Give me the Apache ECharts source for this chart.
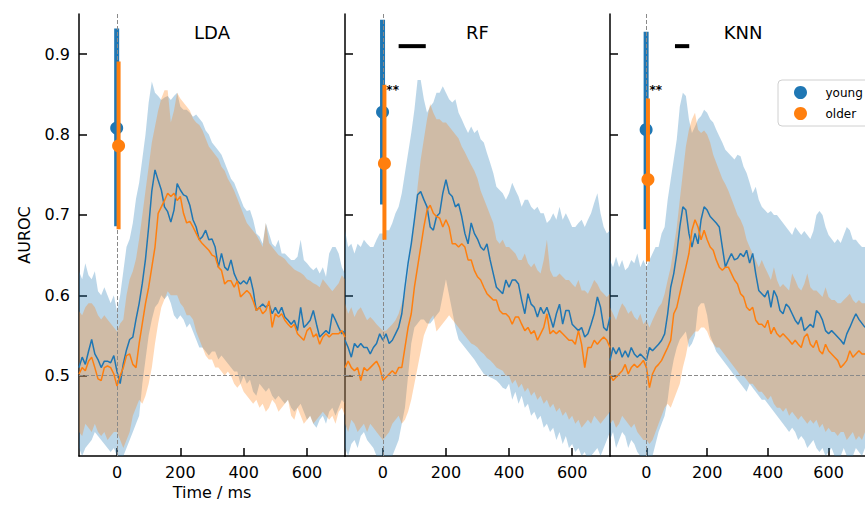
<!DOCTYPE html>
<html><head><meta charset="utf-8">
<script src="https://cdn.jsdelivr.net/npm/echarts@6/dist/echarts.min.js"></script>
<style>html,body{margin:0;padding:0;background:#fff}#c{width:865px;height:507px}</style>
</head><body><div id="c"></div>
<script>
// ---------------- data ----------------
const panelNames = ['LDA', 'RF', 'KNN'];
const groupNames = ['young', 'older'];
const xTicks = [0, 200, 400, 600];
const yTicks = [0.5, 0.6, 0.7, 0.8, 0.9];
const xRange = [-120, 720];
const yRange = [0.4, 0.95];
const chanceLevel = 0.5;
const onsetTime = 0;

const times = [
-120,-110,-100,-90,-80,-70,-60,-50,-40,-30,-20,-10,
0,10,20,30,40,50,60,70,80,90,100,110,
120,130,140,150,160,170,180,190,200,210,220,230,
240,250,260,270,280,290,300,310,320,330,340,350,
360,370,380,390,400,410,420,430,440,450,460,470,
480,490,500,510,520,530,540,550,560,570,580,590,
600,610,620,630,640,650,660,670,680,690,700,710,
720];

// LDA
const ldaYoungMean = [
0.510,0.523,0.514,0.530,0.545,0.527,0.520,0.510,0.518,0.518,0.516,0.525,
0.505,0.490,0.515,0.532,0.545,0.548,0.570,0.590,0.615,0.645,0.685,0.730,
0.756,0.743,0.731,0.710,0.704,0.691,0.706,0.739,0.731,0.725,0.723,0.712,
0.694,0.685,0.669,0.673,0.681,0.669,0.670,0.660,0.635,0.652,0.635,0.631,
0.644,0.627,0.618,0.614,0.618,0.614,0.623,0.606,0.581,0.585,0.589,0.585,
0.589,0.577,0.585,0.577,0.585,0.573,0.569,0.564,0.569,0.556,0.585,0.560,
0.564,0.569,0.581,0.564,0.548,0.552,0.556,0.552,0.577,0.569,0.560,0.552,
0.556];
const ldaYoungUpper = [
0.630,0.620,0.640,0.625,0.620,0.630,0.605,0.600,0.610,0.600,0.590,0.600,
0.580,0.600,0.630,0.660,0.670,0.690,0.720,0.740,0.770,0.800,0.840,0.866,
0.852,0.848,0.843,0.846,0.848,0.843,0.848,0.852,0.835,0.831,0.831,0.827,
0.822,0.825,0.820,0.815,0.805,0.800,0.790,0.785,0.780,0.775,0.765,0.755,
0.745,0.740,0.730,0.720,0.710,0.705,0.706,0.694,0.677,0.673,0.664,0.690,
0.677,0.664,0.660,0.669,0.652,0.652,0.648,0.644,0.644,0.648,0.669,0.644,
0.640,0.635,0.631,0.635,0.627,0.635,0.623,0.652,0.660,0.660,0.652,0.635,
0.627];
const ldaYoungLower = [
0.410,0.400,0.410,0.415,0.420,0.430,0.425,0.420,0.415,0.410,0.405,0.410,
0.400,0.390,0.400,0.410,0.420,0.430,0.440,0.450,0.490,0.520,0.550,0.570,
0.585,0.590,0.600,0.595,0.600,0.590,0.575,0.570,0.575,0.570,0.560,0.565,
0.555,0.545,0.535,0.535,0.530,0.525,0.530,0.530,0.520,0.525,0.520,0.515,
0.510,0.505,0.505,0.490,0.500,0.490,0.495,0.480,0.475,0.490,0.485,0.480,
0.485,0.475,0.470,0.475,0.470,0.465,0.470,0.460,0.455,0.460,0.465,0.455,
0.445,0.450,0.440,0.435,0.445,0.450,0.440,0.455,0.460,0.450,0.460,0.470,
0.465];
const ldaOlderMean = [
0.502,0.510,0.506,0.518,0.523,0.510,0.496,0.494,0.510,0.512,0.510,0.502,
0.487,0.500,0.510,0.525,0.527,0.514,0.510,0.540,0.565,0.590,0.610,0.635,
0.660,0.702,0.710,0.718,0.727,0.723,0.727,0.718,0.723,0.702,0.690,0.692,
0.685,0.677,0.669,0.664,0.660,0.656,0.650,0.648,0.635,0.631,0.614,0.618,
0.618,0.610,0.618,0.598,0.602,0.606,0.602,0.593,0.581,0.585,0.577,0.581,
0.593,0.560,0.577,0.573,0.577,0.569,0.564,0.560,0.564,0.552,0.548,0.544,
0.556,0.560,0.548,0.552,0.539,0.548,0.552,0.548,0.552,0.552,0.552,0.556,
0.548];
const ldaOlderUpper = [
0.580,0.575,0.585,0.590,0.590,0.585,0.575,0.570,0.575,0.570,0.565,0.560,
0.555,0.565,0.570,0.600,0.620,0.630,0.645,0.670,0.700,0.730,0.760,0.790,
0.810,0.830,0.845,0.855,0.855,0.815,0.830,0.852,0.845,0.840,0.835,0.830,
0.820,0.815,0.812,0.805,0.795,0.785,0.780,0.775,0.770,0.760,0.755,0.745,
0.738,0.730,0.720,0.710,0.700,0.690,0.685,0.680,0.675,0.668,0.660,0.690,
0.665,0.660,0.655,0.650,0.648,0.645,0.640,0.636,0.632,0.630,0.628,0.625,
0.620,0.618,0.615,0.613,0.610,0.620,0.615,0.610,0.605,0.610,0.615,0.625,
0.620];
const ldaOlderLower = [
0.430,0.425,0.440,0.435,0.430,0.440,0.430,0.425,0.430,0.420,0.425,0.430,
0.430,0.420,0.410,0.420,0.430,0.450,0.460,0.470,0.465,0.475,0.490,0.510,
0.540,0.565,0.585,0.595,0.605,0.600,0.600,0.600,0.590,0.585,0.575,0.575,
0.570,0.555,0.545,0.535,0.525,0.520,0.520,0.510,0.510,0.505,0.500,0.505,
0.500,0.490,0.485,0.490,0.480,0.475,0.470,0.465,0.470,0.460,0.465,0.455,
0.460,0.470,0.465,0.455,0.460,0.465,0.470,0.450,0.445,0.460,0.450,0.440,
0.445,0.450,0.440,0.445,0.450,0.455,0.450,0.445,0.450,0.440,0.455,0.460,
0.450];

// RF
const rfYoungMean = [
0.544,0.535,0.523,0.540,0.535,0.540,0.535,0.535,0.527,0.535,0.540,0.552,
0.544,0.552,0.540,0.544,0.552,0.560,0.577,0.610,0.640,0.664,0.694,0.725,
0.729,0.719,0.710,0.685,0.681,0.698,0.702,0.727,0.744,0.727,0.723,0.710,
0.714,0.698,0.677,0.664,0.690,0.677,0.670,0.660,0.656,0.664,0.644,0.627,
0.610,0.606,0.602,0.619,0.610,0.619,0.619,0.614,0.594,0.577,0.602,0.589,
0.585,0.573,0.585,0.577,0.585,0.573,0.560,0.577,0.589,0.564,0.581,0.581,
0.564,0.560,0.556,0.560,0.548,0.552,0.564,0.577,0.598,0.585,0.560,0.556,
0.573];
const rfYoungUpper = [
0.681,0.660,0.664,0.652,0.664,0.660,0.669,0.664,0.660,0.660,0.669,0.677,
0.677,0.681,0.681,0.690,0.702,0.710,0.727,0.752,0.777,0.802,0.831,0.868,
0.868,0.844,0.827,0.835,0.840,0.852,0.852,0.860,0.852,0.844,0.840,0.844,
0.827,0.819,0.810,0.802,0.810,0.802,0.806,0.794,0.790,0.777,0.765,0.752,
0.735,0.731,0.727,0.719,0.727,0.740,0.731,0.723,0.710,0.719,0.719,0.710,
0.706,0.710,0.702,0.702,0.690,0.694,0.702,0.694,0.710,0.694,0.702,0.694,
0.685,0.685,0.690,0.694,0.685,0.694,0.702,0.715,0.727,0.702,0.685,0.677,
0.681];
const rfYoungLower = [
0.410,0.400,0.415,0.420,0.410,0.425,0.430,0.420,0.415,0.410,0.400,0.395,
0.400,0.395,0.400,0.400,0.410,0.420,0.440,0.460,0.500,0.540,0.560,0.565,
0.570,0.570,0.565,0.565,0.570,0.575,0.580,0.600,0.620,0.600,0.580,0.560,
0.545,0.540,0.535,0.530,0.525,0.520,0.514,0.508,0.502,0.500,0.498,0.496,
0.494,0.490,0.485,0.483,0.490,0.470,0.480,0.465,0.475,0.460,0.465,0.450,
0.455,0.445,0.450,0.435,0.440,0.430,0.435,0.420,0.430,0.415,0.425,0.410,
0.415,0.405,0.410,0.400,0.405,0.395,0.400,0.405,0.410,0.400,0.410,0.420,
0.430];
const rfOlderMean = [
0.510,0.518,0.510,0.506,0.510,0.494,0.510,0.506,0.510,0.514,0.518,0.510,
0.494,0.498,0.502,0.506,0.502,0.510,0.510,0.535,0.560,0.577,0.610,0.635,
0.660,0.685,0.706,0.712,0.702,0.698,0.696,0.685,0.694,0.685,0.664,0.664,
0.660,0.664,0.660,0.644,0.644,0.631,0.623,0.619,0.610,0.602,0.598,0.594,
0.594,0.581,0.577,0.577,0.573,0.564,0.573,0.573,0.564,0.556,0.560,0.552,
0.556,0.544,0.552,0.560,0.577,0.552,0.556,0.552,0.556,0.552,0.548,0.544,
0.544,0.539,0.556,0.539,0.510,0.535,0.535,0.544,0.539,0.544,0.548,0.544,
0.535];
const rfOlderUpper = [
0.590,0.577,0.585,0.573,0.581,0.585,0.577,0.569,0.573,0.569,0.564,0.560,
0.556,0.556,0.560,0.564,0.569,0.577,0.590,0.602,0.627,0.660,0.694,0.735,
0.769,0.794,0.819,0.838,0.827,0.819,0.819,0.815,0.815,0.810,0.805,0.800,
0.795,0.785,0.778,0.770,0.762,0.755,0.745,0.730,0.720,0.710,0.700,0.690,
0.669,0.664,0.669,0.660,0.660,0.656,0.652,0.644,0.644,0.652,0.640,0.635,
0.640,0.631,0.627,0.644,0.669,0.631,0.623,0.623,0.627,0.623,0.619,0.619,
0.614,0.610,0.619,0.606,0.606,0.602,0.610,0.619,0.614,0.606,0.602,0.598,
0.602];
const rfOlderLower = [
0.440,0.430,0.445,0.440,0.430,0.435,0.440,0.430,0.440,0.435,0.430,0.425,
0.420,0.425,0.430,0.440,0.445,0.450,0.440,0.445,0.455,0.470,0.490,0.510,
0.530,0.550,0.560,0.570,0.575,0.555,0.560,0.565,0.570,0.575,0.570,0.565,
0.560,0.555,0.550,0.545,0.540,0.538,0.535,0.530,0.527,0.522,0.519,0.515,
0.510,0.508,0.506,0.500,0.500,0.490,0.495,0.485,0.490,0.480,0.485,0.475,
0.480,0.470,0.475,0.465,0.470,0.460,0.465,0.455,0.460,0.450,0.455,0.445,
0.450,0.440,0.445,0.435,0.440,0.445,0.440,0.450,0.445,0.440,0.445,0.450,
0.455];

// KNN
const knnYoungMean = [
0.519,0.535,0.527,0.535,0.523,0.531,0.523,0.535,0.527,0.523,0.527,0.523,
0.519,0.535,0.531,0.535,0.539,0.544,0.552,0.577,0.610,0.627,0.652,0.685,
0.710,0.706,0.677,0.660,0.677,0.664,0.694,0.710,0.706,0.698,0.694,0.690,
0.685,0.660,0.635,0.644,0.652,0.644,0.646,0.652,0.648,0.656,0.640,0.652,
0.627,0.606,0.602,0.598,0.606,0.585,0.606,0.598,0.581,0.577,0.589,0.585,
0.577,0.569,0.564,0.573,0.556,0.560,0.564,0.560,0.581,0.577,0.569,0.556,
0.552,0.556,0.552,0.548,0.544,0.539,0.552,0.560,0.569,0.577,0.570,0.565,
0.560];
const knnYoungUpper = [
0.644,0.635,0.648,0.635,0.644,0.631,0.635,0.644,0.640,0.652,0.635,0.644,
0.635,0.644,0.652,0.660,0.660,0.677,0.685,0.719,0.744,0.769,0.794,0.835,
0.852,0.848,0.819,0.802,0.810,0.819,0.823,0.831,0.827,0.819,0.815,0.806,
0.798,0.790,0.781,0.777,0.773,0.769,0.775,0.773,0.760,0.752,0.740,0.727,
0.735,0.719,0.710,0.706,0.702,0.705,0.700,0.700,0.695,0.690,0.685,0.680,
0.675,0.685,0.680,0.675,0.680,0.675,0.670,0.680,0.700,0.705,0.700,0.685,
0.675,0.670,0.665,0.670,0.665,0.675,0.685,0.681,0.669,0.669,0.664,0.660,
0.660];
const knnYoungLower = [
0.420,0.430,0.410,0.420,0.430,0.425,0.410,0.420,0.415,0.405,0.400,0.395,
0.400,0.395,0.400,0.415,0.430,0.440,0.450,0.470,0.500,0.520,0.535,0.545,
0.550,0.555,0.535,0.540,0.550,0.585,0.590,0.590,0.575,0.550,0.540,0.530,
0.525,0.520,0.515,0.510,0.505,0.500,0.495,0.490,0.485,0.480,0.490,0.485,
0.480,0.475,0.470,0.470,0.465,0.460,0.455,0.450,0.445,0.440,0.435,0.430,
0.435,0.430,0.420,0.425,0.420,0.410,0.415,0.420,0.410,0.405,0.410,0.400,
0.405,0.410,0.400,0.395,0.400,0.410,0.400,0.395,0.400,0.410,0.405,0.400,
0.410];
const knnOlderMean = [
0.502,0.494,0.498,0.502,0.506,0.514,0.502,0.510,0.514,0.510,0.514,0.519,
0.510,0.485,0.502,0.510,0.514,0.519,0.527,0.535,0.544,0.577,0.585,0.602,
0.619,0.635,0.652,0.681,0.694,0.685,0.669,0.681,0.669,0.660,0.656,0.644,
0.635,0.631,0.635,0.635,0.627,0.619,0.614,0.602,0.598,0.585,0.581,0.585,
0.569,0.564,0.564,0.560,0.569,0.552,0.560,0.552,0.548,0.552,0.548,0.544,
0.539,0.544,0.539,0.535,0.548,0.552,0.539,0.535,0.544,0.531,0.527,0.539,
0.531,0.527,0.523,0.519,0.510,0.514,0.519,0.531,0.523,0.527,0.531,0.527,
0.527];
const knnOlderUpper = [
0.585,0.577,0.569,0.581,0.590,0.585,0.577,0.581,0.573,0.569,0.577,0.564,
0.569,0.560,0.569,0.577,0.585,0.590,0.602,0.619,0.635,0.660,0.685,0.719,
0.752,0.785,0.806,0.819,0.827,0.806,0.802,0.805,0.800,0.790,0.775,0.765,
0.755,0.745,0.738,0.730,0.720,0.710,0.700,0.694,0.685,0.669,0.660,0.652,
0.644,0.635,0.644,0.635,0.627,0.619,0.635,0.619,0.610,0.614,0.610,0.606,
0.627,0.619,0.610,0.606,0.614,0.627,0.610,0.606,0.606,0.602,0.598,0.610,
0.598,0.594,0.594,0.590,0.590,0.594,0.598,0.602,0.594,0.590,0.594,0.590,
0.590];
const knnOlderLower = [
0.440,0.445,0.435,0.440,0.450,0.445,0.440,0.435,0.440,0.430,0.425,0.420,
0.420,0.415,0.420,0.430,0.440,0.450,0.460,0.465,0.460,0.470,0.480,0.490,
0.510,0.525,0.545,0.550,0.555,0.555,0.560,0.560,0.555,0.545,0.540,0.535,
0.535,0.530,0.525,0.520,0.515,0.510,0.505,0.500,0.500,0.495,0.490,0.490,
0.485,0.480,0.480,0.475,0.470,0.475,0.465,0.460,0.460,0.455,0.460,0.450,
0.455,0.450,0.445,0.450,0.445,0.440,0.445,0.440,0.445,0.435,0.440,0.430,
0.435,0.430,0.430,0.425,0.430,0.430,0.420,0.425,0.430,0.420,0.425,0.420,
0.430];

// summary points with error bars (one value per panel: LDA, RF, KNN)
const groupOffsets = [-1, 5];            // ms position of young / older summary
const youngPointMean = [0.808, 0.828, 0.806];
const youngPointLow  = [0.686, 0.713, 0.682];
const youngPointHigh = [0.932, 0.943, 0.928];
const olderPointMean = [0.786, 0.764, 0.744];
const olderPointLow  = [0.682, 0.669, 0.642];
const olderPointHigh = [0.891, 0.862, 0.845];

// significance markers (per panel)
const sigStart = [null, 50, 94];
const sigEnd   = [null, 136, 141];
const sigLevel = 0.91;
const starTime  = [null, 31, 31];
const starLevel = 0.859;
const starText  = ['', '**', '**'];

// ---------------- chart ----------------
const FONT = 'DejaVu Sans';
const BLUE = '#1f77b4', ORANGE = '#ff7f0e';
const BLUE_FILL = 'rgba(31,119,180,0.3)', ORANGE_FILL = 'rgba(255,127,14,0.3)';
const GRID_TOP = 14, GRID_H = 442;
const gridBoxes = [{left: 79, width: 266}, {left: 345, width: 265}, {left: 610, width: 266}];

const panels = [
  {young: {mean: ldaYoungMean, lo: ldaYoungLower, hi: ldaYoungUpper},
   older: {mean: ldaOlderMean, lo: ldaOlderLower, hi: ldaOlderUpper}},
  {young: {mean: rfYoungMean, lo: rfYoungLower, hi: rfYoungUpper},
   older: {mean: rfOlderMean, lo: rfOlderLower, hi: rfOlderUpper}},
  {young: {mean: knnYoungMean, lo: knnYoungLower, hi: knnYoungUpper},
   older: {mean: knnOlderMean, lo: knnOlderLower, hi: knnOlderUpper}}
];
const pointStats = {
  young: {mean: youngPointMean, lo: youngPointLow, hi: youngPointHigh, color: BLUE, width: 5},
  older: {mean: olderPointMean, lo: olderPointLow, hi: olderPointHigh, color: ORANGE, width: 4}
};

const chart = echarts.init(document.getElementById('c'), null, {renderer: 'svg', width: 865, height: 507});

const grids = gridBoxes.map(g => ({left: g.left, width: g.width, top: GRID_TOP, height: GRID_H, containLabel: false}));
const axisLineStyle = {show: true, onZero: false, lineStyle: {color: '#000', width: 1.5}};
const xAxes = gridBoxes.map((g, i) => ({
  type: 'value', gridIndex: i, min: xRange[0], max: xRange[1],
  axisLine: axisLineStyle,
  axisTick: {show: true, inside: true, length: 8, customValues: xTicks, lineStyle: {color: '#000', width: 1.5}},
  axisLabel: {show: true, customValues: xTicks, margin: 8, color: '#000', fontSize: 16, fontFamily: FONT, formatter: v => String(v)},
  splitLine: {show: false},
  name: i === 0 ? 'Time / ms' : '', nameLocation: 'middle', nameGap: 28,
  nameTextStyle: {color: '#000', fontSize: 16, fontFamily: FONT}
}));
const yAxes = gridBoxes.map((g, i) => ({
  type: 'value', gridIndex: i, min: yRange[0], max: yRange[1],
  axisLine: axisLineStyle,
  axisTick: {show: true, inside: true, length: 8, customValues: yTicks, lineStyle: {color: '#000', width: 1.5}},
  axisLabel: {show: i === 0, customValues: yTicks, margin: 9, color: '#000', fontSize: 16, fontFamily: FONT, formatter: v => v.toFixed(1)},
  splitLine: {show: false},
  name: i === 0 ? 'AUROC' : '', nameLocation: 'middle', nameGap: 47,
  nameTextStyle: {color: '#000', fontSize: 16, fontFamily: FONT}
}));

function bandSeries(pi, lo, hi, fill, z) {
  return {
    type: 'custom', xAxisIndex: pi, yAxisIndex: pi, silent: true, z: z,
    data: times.map((t, i) => [t, lo[i], hi[i]]),
    encode: {x: 0, y: [1, 2]},
    renderItem: function (params, api) {
      if (params.dataIndex !== 0) return null;
      const pts = [];
      for (let i = 0; i < times.length; i++) pts.push(api.coord([times[i], hi[i]]));
      for (let i = times.length - 1; i >= 0; i--) pts.push(api.coord([times[i], lo[i]]));
      const cs = params.coordSys;
      return {
        type: 'polygon', shape: {points: pts}, style: {fill: fill, stroke: null},
        clipPath: {type: 'rect', shape: {x: cs.x, y: cs.y, width: cs.width, height: cs.height}}
      };
    }
  };
}
function meanSeries(pi, mean, color, z) {
  return {
    type: 'line', xAxisIndex: pi, yAxisIndex: pi, silent: true, z: z,
    data: times.map((t, i) => [t, mean[i]]),
    symbol: 'none', showSymbol: false, clip: true,
    lineStyle: {color: color, width: 1.5}
  };
}

const series = [];
panels.forEach((p, pi) => {
  series.push(bandSeries(pi, p.young.lo, p.young.hi, BLUE_FILL, 1));
  series.push(bandSeries(pi, p.older.lo, p.older.hi, ORANGE_FILL, 2));
  series.push(meanSeries(pi, p.young.mean, BLUE, 3));
  series.push(meanSeries(pi, p.older.mean, ORANGE, 3));
  groupNames.forEach((gname, gi) => {
    const s = pointStats[gname];
    const x = groupOffsets[gi];
    series.push({
      type: 'line', xAxisIndex: pi, yAxisIndex: pi, silent: true, z: 4 + gi * 2,
      data: [[x, s.lo[pi]], [x, s.hi[pi]]], symbol: 'none',
      lineStyle: {color: s.color, width: s.width, cap: 'butt'}
    });
    series.push({
      type: 'scatter', name: gname, xAxisIndex: pi, yAxisIndex: pi, silent: true, z: 5 + gi * 2,
      data: [[x, s.mean[pi]]], symbol: 'circle', symbolSize: 13,
      itemStyle: {color: s.color, opacity: 1}
    });
  });
  // reference lines
  series.push({
    type: 'line', xAxisIndex: pi, yAxisIndex: pi, silent: true, z: 9,
    data: [[onsetTime, chanceLevel]], symbol: 'none', lineStyle: {width: 0},
    markLine: {
      silent: true, symbol: ['none', 'none'], label: {show: false}, animation: false,
      lineStyle: {color: '#8a8a8a', width: 1, type: [4, 2]},
      emphasis: {disabled: true},
      data: [{xAxis: onsetTime}, {yAxis: chanceLevel}]
    }
  });
  if (sigStart[pi] !== null) {
    series.push({
      type: 'line', xAxisIndex: pi, yAxisIndex: pi, silent: true, z: 10,
      data: [[sigStart[pi], sigLevel], [sigEnd[pi], sigLevel]], symbol: 'none',
      lineStyle: {color: '#000', width: 4, cap: 'butt'}
    });
  }
  if (starTime[pi] !== null) {
    const label = starText[pi];
    series.push({
      type: 'custom', xAxisIndex: pi, yAxisIndex: pi, silent: true, z: 10,
      data: [[starTime[pi], starLevel]],
      encode: {x: 0, y: 1},
      renderItem: function (params, api) {
        const c = api.coord([api.value(0), api.value(1)]);
        return {
          type: 'text', x: c[0], y: c[1] + 3,
          style: {text: label, fill: '#000', font: 'bold 12px "DejaVu Sans"', align: 'center', verticalAlign: 'middle'}
        };
      }
    });
  }
});

const titles = panelNames.map((name, i) => ({
  type: 'text', x: gridBoxes[i].left + gridBoxes[i].width / 2, y: 32, silent: true,
  style: {text: name, fill: '#000', font: '18px "DejaVu Sans"', align: 'center', verticalAlign: 'middle'}
}));

chart.setOption({
  animation: false,
  backgroundColor: '#fff',
  grid: grids, xAxis: xAxes, yAxis: yAxes,
  legend: {
    show: true, orient: 'vertical', left: 778, top: 80, selectedMode: false,
    itemWidth: 40, itemHeight: 13, itemGap: 8, padding: [6, 50, 6, 16],
    borderColor: '#d0d0d0', borderWidth: 1, borderRadius: 4, backgroundColor: '#fff',
    textStyle: {color: '#000', fontSize: 12, fontFamily: FONT},
    data: [{name: 'young', icon: 'circle'}, {name: 'older', icon: 'circle'}]
  },
  graphic: titles,
  series: series
});
</script>
</body></html>
